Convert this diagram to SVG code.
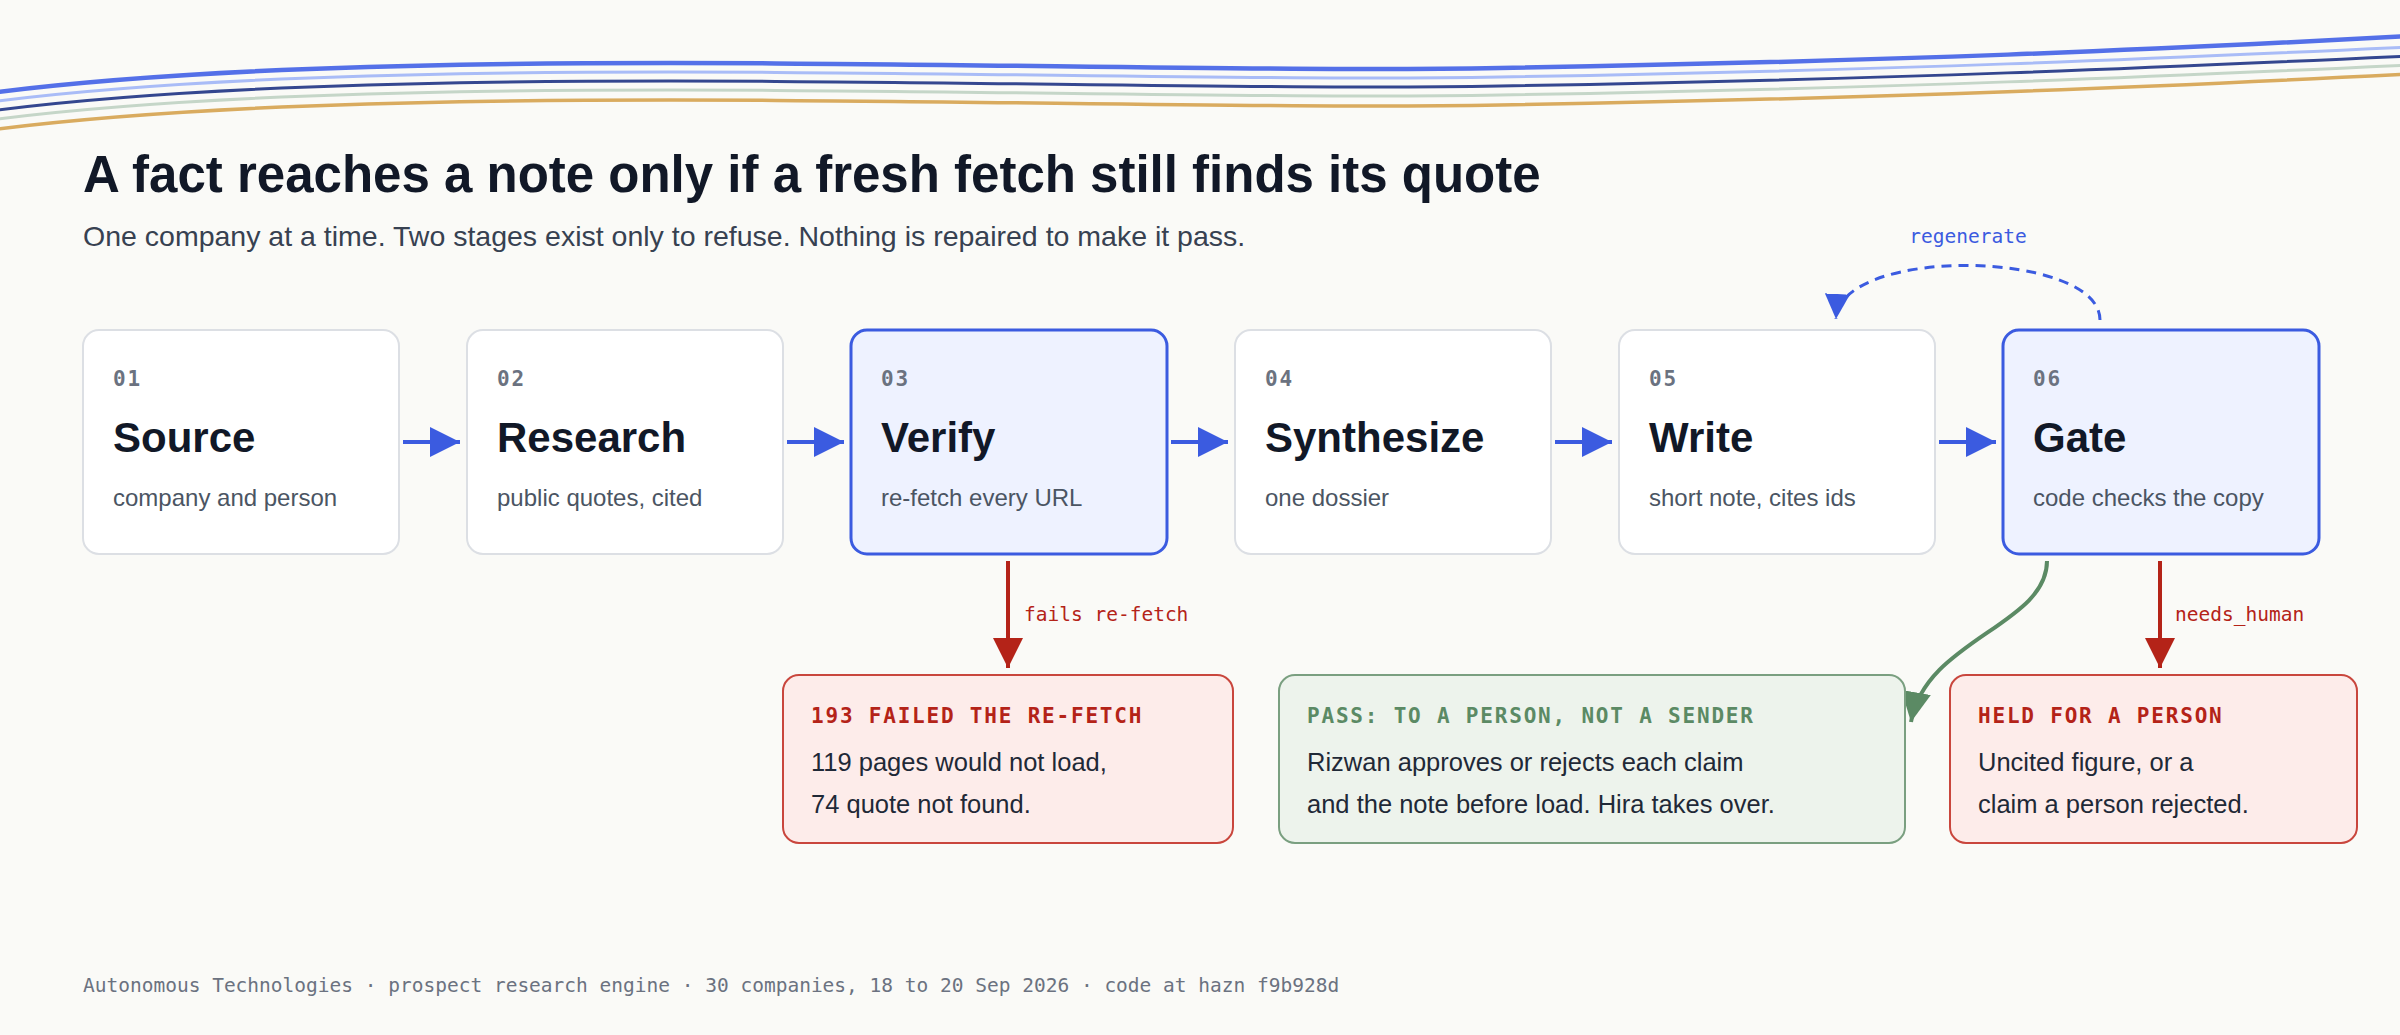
<svg xmlns="http://www.w3.org/2000/svg" width="2400" height="1035" viewBox="0 0 2400 1035">
<defs>
<style>
.sans{font-family:"Liberation Sans",Arial,sans-serif}
.mono{font-family:"DejaVu Sans Mono","Liberation Mono",monospace}
.node{fill:#ffffff;stroke:#dcdfe4;stroke-width:2}
.hot{fill:#eef2ff;stroke:#3b5be0;stroke-width:3}
.num{font-family:"DejaVu Sans Mono",monospace;font-weight:bold;font-size:21px;fill:#6b7280;letter-spacing:1.8px}
.ttl{font-family:"Liberation Sans",Arial,sans-serif;font-weight:bold;font-size:42px;fill:#111827}
.sub{font-family:"Liberation Sans",Arial,sans-serif;font-size:24px;fill:#4b5563}
.otitle{font-family:"DejaVu Sans Mono",monospace;font-weight:bold;font-size:21px;letter-spacing:1.8px}
.obody{font-family:"Liberation Sans",Arial,sans-serif;font-size:25.5px;fill:#1f2937}
.lbl{font-family:"DejaVu Sans Mono",monospace;font-size:19.5px}
.wave{fill:none;stroke-linecap:round}
</style>
<marker id="ab" markerUnits="userSpaceOnUse" markerWidth="30" markerHeight="30" viewBox="0 0 30 30" refX="30" refY="15" orient="auto"><path d="M0,0 L30,15 L0,30 z" fill="#3b5be0"/></marker>
<marker id="abs" markerUnits="userSpaceOnUse" markerWidth="25" markerHeight="25" viewBox="0 0 25 25" refX="25" refY="12.5" orient="auto"><path d="M0,0 L25,12.5 L0,25 z" fill="#3b5be0"/></marker>
<marker id="ar" markerUnits="userSpaceOnUse" markerWidth="30" markerHeight="30" viewBox="0 0 30 30" refX="30" refY="15" orient="auto"><path d="M0,0 L30,15 L0,30 z" fill="#b42318"/></marker>
<marker id="ag" markerUnits="userSpaceOnUse" markerWidth="30" markerHeight="30" viewBox="0 0 30 30" refX="30" refY="15" orient="auto"><path d="M0,0 L30,15 L0,30 z" fill="#5b8a64"/></marker>
</defs>
<rect x="0" y="0" width="2400" height="1035" fill="#fafaf7"/>

<g id="waves">
<path class="wave" d="M-10,93 C400,40 1100,75 1500,68 C1900,61 2150,50 2410,36" stroke="#5470e8" stroke-width="4.5"/>
<path class="wave" d="M-10,102 C400,49 1100,84 1500,77 C1900,70 2150,59 2410,47" stroke="#a9bcf7" stroke-width="3"/>
<path class="wave" d="M-10,111 C400,58 1100,93 1500,86 C1900,79 2150,68 2410,56" stroke="#34478f" stroke-width="3"/>
<path class="wave" d="M-10,120 C400,67 1100,102 1500,95 C1900,88 2150,77 2410,65" stroke="#c5d6c8" stroke-width="3"/>
<path class="wave" d="M-10,130 C400,77 1100,112 1500,105 C1900,98 2150,87 2410,74" stroke="#d9ab5f" stroke-width="3.5"/>
</g>

<text class="sans" x="83" y="192" font-size="51" font-weight="bold" fill="#111827">A fact reaches a note only if a fresh fetch still finds its quote</text>
<text class="sans" x="83" y="246" font-size="28.5" fill="#374151">One company at a time. Two stages exist only to refuse. Nothing is repaired to make it pass.</text>

<g id="connectors">
<line x1="403" y1="442" x2="460" y2="442" stroke="#3b5be0" stroke-width="4" marker-end="url(#ab)"/>
<line x1="787" y1="442" x2="844" y2="442" stroke="#3b5be0" stroke-width="4" marker-end="url(#ab)"/>
<line x1="1171" y1="442" x2="1228" y2="442" stroke="#3b5be0" stroke-width="4" marker-end="url(#ab)"/>
<line x1="1555" y1="442" x2="1612" y2="442" stroke="#3b5be0" stroke-width="4" marker-end="url(#ab)"/>
<line x1="1939" y1="442" x2="1996" y2="442" stroke="#3b5be0" stroke-width="4" marker-end="url(#ab)"/>
<path d="M2100,320 C2100,250 1840,245 1836,319" fill="none" stroke="#3b5be0" stroke-width="3" stroke-dasharray="10 7" marker-end="url(#abs)"/>
<text class="lbl" x="1968" y="243" text-anchor="middle" fill="#3b5be0">regenerate</text>
<line x1="1008" y1="561" x2="1008" y2="668" stroke="#b42318" stroke-width="4" marker-end="url(#ar)"/>
<text class="lbl" x="1024" y="621" fill="#b42318">fails re-fetch</text>
<line x1="2160" y1="561" x2="2160" y2="668" stroke="#b42318" stroke-width="4" marker-end="url(#ar)"/>
<text class="lbl" x="2175" y="621" fill="#b42318">needs_human</text>
<path d="M2047,561 C2047,625 1925,640 1911,722" fill="none" stroke="#5b8a64" stroke-width="4" marker-end="url(#ag)"/>
</g>

<g id="n1"><rect class="node" x="83" y="330" width="316" height="224" rx="16"/><text class="num" x="113" y="386">01</text><text class="ttl" x="113" y="452">Source</text><text class="sub" x="113" y="506">company and person</text></g>
<g id="n2"><rect class="node" x="467" y="330" width="316" height="224" rx="16"/><text class="num" x="497" y="386">02</text><text class="ttl" x="497" y="452">Research</text><text class="sub" x="497" y="506">public quotes, cited</text></g>
<g id="n3"><rect class="hot" x="851" y="330" width="316" height="224" rx="16"/><text class="num" x="881" y="386">03</text><text class="ttl" x="881" y="452">Verify</text><text class="sub" x="881" y="506">re-fetch every URL</text></g>
<g id="n4"><rect class="node" x="1235" y="330" width="316" height="224" rx="16"/><text class="num" x="1265" y="386">04</text><text class="ttl" x="1265" y="452">Synthesize</text><text class="sub" x="1265" y="506">one dossier</text></g>
<g id="n5"><rect class="node" x="1619" y="330" width="316" height="224" rx="16"/><text class="num" x="1649" y="386">05</text><text class="ttl" x="1649" y="452">Write</text><text class="sub" x="1649" y="506">short note, cites ids</text></g>
<g id="n6"><rect class="hot" x="2003" y="330" width="316" height="224" rx="16"/><text class="num" x="2033" y="386">06</text><text class="ttl" x="2033" y="452">Gate</text><text class="sub" x="2033" y="506">code checks the copy</text></g>

<g id="o1"><rect x="783" y="675" width="450" height="168" rx="16" fill="#fdecea" stroke="#c9463d" stroke-width="2"/><text class="otitle" x="811" y="723" fill="#b42318">193 FAILED THE RE-FETCH</text><text class="obody" x="811" y="771">119 pages would not load,</text><text class="obody" x="811" y="813">74 quote not found.</text></g>
<g id="o2"><rect x="1279" y="675" width="626" height="168" rx="16" fill="#edf3ec" stroke="#7a9f80" stroke-width="2"/><text class="otitle" x="1307" y="723" fill="#5b8a64">PASS: TO A PERSON, NOT A SENDER</text><text class="obody" x="1307" y="771">Rizwan approves or rejects each claim</text><text class="obody" x="1307" y="813">and the note before load. Hira takes over.</text></g>
<g id="o3"><rect x="1950" y="675" width="407" height="168" rx="16" fill="#fdecea" stroke="#c9463d" stroke-width="2"/><text class="otitle" x="1978" y="723" fill="#b42318">HELD FOR A PERSON</text><text class="obody" x="1978" y="771">Uncited figure, or a</text><text class="obody" x="1978" y="813">claim a person rejected.</text></g>

<text class="mono" x="83" y="992" font-size="19.5" fill="#6b7280">Autonomous Technologies · prospect research engine · 30 companies, 18 to 20 Sep 2026 · code at hazn f9b928d</text>
</svg>
